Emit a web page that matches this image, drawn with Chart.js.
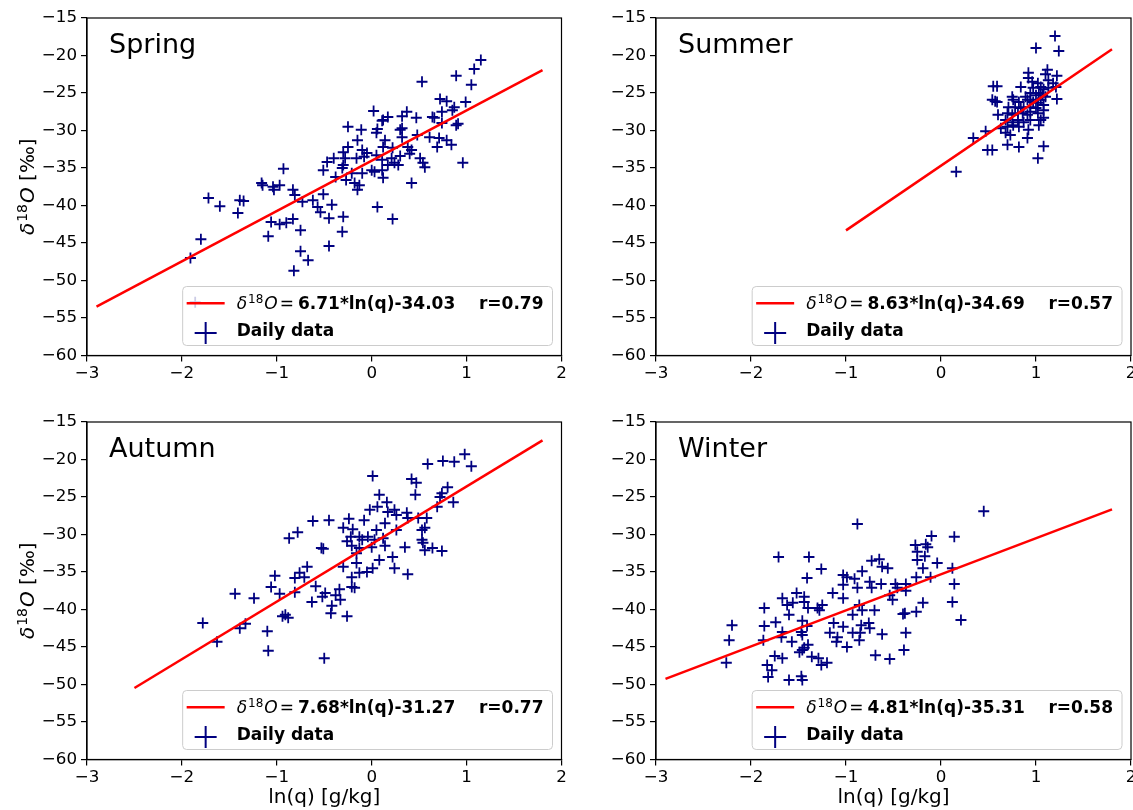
<!DOCTYPE html>
<html>
<head>
<meta charset="utf-8">
<script src="https://cdn.jsdelivr.net/npm/chart.js@4.4.0/dist/chart.umd.min.js"></script>
<style>
  html, body { margin: 0; padding: 0; background: #fff; overflow: hidden; width: 1133px; height: 810px; }
  canvas { position: absolute; left: 0; top: 0; }
</style>
</head>
<body>
<canvas id="panel0" width="1160" height="830"></canvas>
<canvas id="panel1" width="1160" height="830"></canvas>
<canvas id="panel2" width="1160" height="830"></canvas>
<canvas id="panel3" width="1160" height="830"></canvas>
<script>
// ---- data (ln(q) [g/kg], d18O [permil]) ----
const seasons = ['Spring', 'Summer', 'Autumn', 'Winter'];
const slopes = [6.71, 8.63, 7.68, 4.81];
const intercepts = [-34.03, -34.69, -31.27, -35.31];
const rValues = [0.79, 0.57, 0.77, 0.58];
const fitFrom = [-2.9, -1.0, -2.5, -2.9];
const fitTo = [1.8, 1.8, 1.8, 1.8];
const xTickValues = [-3, -2, -1, 0, 1, 2];
const yTickValues = [-60, -55, -50, -45, -40, -35, -30, -25, -20, -15];

const springPoints = [
  [-0.93,-35.1],[-1.16,-37.0],[-1.15,-37.3],[-1.04,-37.5],[-0.97,-37.3],[-1.03,-37.9],[-0.83,-37.9],[-0.81,-38.6],
  [-0.51,-38.5],[-0.73,-39.5],[-0.62,-39.3],[-0.57,-40.2],[-0.54,-40.9],[-0.45,-41.7],[-0.51,-35.3],[-0.47,-34.2],
  [-1.72,-39.0],[-1.60,-40.1],[-1.39,-39.3],[-1.35,-39.4],[-1.41,-41.0],[-1.06,-42.2],[-0.97,-42.5],[-0.90,-42.3],
  [-0.83,-41.8],[-0.75,-43.3],[-1.09,-44.1],[-1.80,-44.5],[-1.91,-47.0],[-0.75,-46.1],[-0.67,-47.3],[-0.82,-48.7],
  [-0.45,-45.4],[-1.86,-52.9],
  [1.15,-20.6],[1.08,-21.8],[0.89,-22.7],[1.05,-23.9],[0.53,-23.5],[0.72,-25.8],[0.79,-26.1],[0.99,-26.2],
  [0.87,-26.9],[0.02,-27.4],[0.37,-27.5],[0.32,-28.1],[0.47,-28.3],[0.17,-28.2],[0.12,-28.6],[0.64,-28.2],
  [0.66,-28.3],[0.74,-27.5],[0.85,-27.3],[0.89,-29.3],[0.91,-29.1],[0.74,-29.0],[-0.25,-29.5],[-0.11,-29.9],
  [0.06,-29.8],[0.11,-28.7],[0.30,-29.9],[0.32,-29.7],[0.05,-30.3],[-0.15,-31.3],[0.32,-30.9],[0.48,-30.6],
  [0.61,-30.9],[0.71,-31.0],[0.79,-31.3],[0.84,-31.9],[0.69,-32.2],[0.14,-31.3],[0.12,-32.2],[0.22,-32.3],
  [0.38,-32.2],[0.42,-32.6],[0.40,-33.1],[-0.25,-32.2],[-0.30,-32.9],[-0.10,-32.6],[-0.05,-33.0],[-0.40,-33.7],
  [-0.28,-33.7],[-0.16,-33.7],[-0.08,-33.5],[0.05,-33.3],[0.11,-33.9],[0.21,-33.7],[0.30,-33.4],[0.24,-34.3],
  [0.28,-34.6],[0.51,-33.7],[0.54,-34.3],[0.56,-34.9],[0.96,-34.3],[-0.30,-34.6],[-0.31,-35.0],[-0.21,-35.7],
  [-0.10,-35.7],[0.00,-35.3],[0.03,-35.5],[0.11,-35.3],[0.12,-36.3],[-0.38,-36.2],[-0.27,-36.6],[-0.18,-37.0],
  [-0.13,-37.3],[-0.15,-37.9],[0.42,-37.0],[0.17,-34.6],[0.06,-40.2],[0.22,-41.8],[-0.42,-39.9],[-0.30,-41.5],
  [-0.31,-43.5]
];

const summerPoints = [
  [1.20,-17.4],[1.00,-19.0],[1.24,-19.4],[0.92,-22.3],[1.12,-21.9],[1.10,-22.5],[1.22,-22.7],[0.92,-23.0],
  [0.96,-23.5],[1.02,-23.7],[1.13,-23.3],[1.18,-23.7],[0.55,-24.1],[0.59,-24.1],[0.84,-24.2],[0.97,-24.3],
  [1.05,-24.2],[1.08,-24.5],[1.13,-24.3],[1.21,-24.2],[0.94,-25.0],[1.00,-25.3],[1.03,-25.0],[1.07,-25.3],
  [1.10,-25.5],[1.22,-25.8],[0.54,-25.9],[0.57,-26.1],[0.59,-26.2],[0.75,-25.5],[0.76,-25.9],[0.82,-26.2],
  [0.89,-25.5],[0.91,-25.9],[0.94,-25.9],[0.97,-26.2],[1.02,-26.3],[1.05,-25.9],[1.08,-26.6],[0.71,-26.9],
  [0.78,-26.9],[0.84,-27.0],[0.87,-26.9],[0.94,-26.9],[1.00,-27.0],[1.08,-27.3],[0.60,-27.9],[0.70,-27.7],
  [0.75,-27.9],[0.81,-27.7],[0.86,-27.7],[0.91,-27.9],[0.94,-27.5],[1.02,-27.7],[0.68,-28.6],[0.75,-28.9],
  [0.81,-28.6],[0.87,-28.9],[0.94,-28.6],[1.05,-28.6],[1.08,-28.3],[0.63,-29.7],[0.70,-29.5],[0.76,-29.3],
  [0.82,-29.5],[0.92,-29.9],[1.03,-29.3],[0.47,-30.1],[0.68,-30.3],[0.73,-30.6],[0.91,-31.0],[0.34,-31.0],
  [0.70,-31.9],[0.82,-32.2],[0.49,-32.6],[0.54,-32.6],[1.08,-32.1],[1.02,-33.7],[0.16,-35.5]
];

const autumnPoints = [
  [-0.62,-28.2],[-0.45,-28.1],[-0.24,-27.9],[-0.30,-29.1],[-0.20,-29.3],[-0.22,-30.3],[-0.26,-30.9],[-0.21,-31.5],
  [-0.78,-29.7],[-0.87,-30.5],[-0.53,-31.8],[-0.51,-31.9],[-0.16,-32.5],[-0.30,-34.3],[-0.16,-33.8],[-0.68,-34.3],
  [-0.76,-35.1],[-0.81,-35.8],[-0.71,-35.7],[-1.02,-35.5],[-1.06,-37.0],[-0.97,-37.9],[-0.81,-37.7],[-0.59,-36.9],
  [-0.21,-35.7],[-0.21,-37.0],[-0.18,-37.1],[-0.34,-37.3],[-0.38,-38.1],[-0.49,-37.8],[-0.52,-38.3],[-0.33,-38.7],
  [-0.63,-39.0],[-0.42,-39.5],[-0.43,-40.5],[-0.26,-40.9],[-1.44,-37.9],[-1.24,-38.5],[-0.94,-40.9],[-0.88,-41.1],
  [-0.91,-40.7],[-1.78,-41.8],[-1.39,-42.5],[-1.33,-41.9],[-1.63,-44.3],[-1.10,-42.9],[-1.09,-45.5],[-0.50,-46.5],
  [0.98,-19.3],[0.59,-20.6],[0.75,-20.2],[0.87,-20.3],[1.05,-20.9],[0.01,-22.2],[0.42,-22.6],[0.47,-23.1],
  [0.46,-24.7],[0.08,-24.7],[0.80,-23.7],[0.74,-24.5],[0.72,-25.0],[0.86,-25.7],[0.69,-26.3],[-0.02,-26.7],
  [0.06,-26.3],[0.16,-25.7],[0.17,-27.0],[0.24,-26.7],[0.26,-27.4],[0.37,-27.1],[0.38,-27.8],[0.49,-27.8],
  [0.58,-27.8],[-0.08,-28.1],[0.05,-29.4],[0.14,-28.5],[0.26,-29.4],[0.53,-29.4],[0.56,-29.1],[-0.13,-30.3],
  [-0.10,-30.7],[-0.04,-30.3],[0.03,-30.7],[0.12,-30.5],[-0.13,-31.8],[0.00,-31.7],[0.14,-31.5],[0.35,-31.7],
  [0.53,-30.7],[0.54,-31.1],[0.56,-32.1],[0.64,-31.8],[0.74,-32.2],[0.08,-33.4],[0.22,-33.0],[0.24,-34.5],
  [-0.13,-35.1],[-0.05,-35.0],[0.01,-34.5],[0.38,-35.3]
];

const winterPoints = [
  [-0.88,-28.6],[-1.71,-33.0],[-1.39,-33.0],[-1.26,-34.6],[-1.41,-35.8],[-1.03,-35.4],[-0.99,-35.7],[-0.91,-35.9],
  [-1.03,-36.7],[-1.14,-37.8],[-1.03,-38.5],[-1.67,-38.5],[-1.52,-37.8],[-1.44,-38.3],[-1.56,-39.1],[-1.62,-39.4],
  [-1.44,-39.0],[-1.86,-39.8],[-1.40,-39.8],[-1.30,-39.8],[-1.28,-40.1],[-1.25,-39.4],[-1.60,-40.7],[-0.93,-40.7],
  [-1.74,-41.7],[-1.86,-42.2],[-1.46,-41.5],[-1.41,-42.2],[-1.13,-41.8],[-1.03,-42.3],[-2.20,-42.1],[-2.23,-44.1],
  [-1.87,-44.1],[-1.68,-43.7],[-1.57,-44.3],[-1.47,-43.0],[-1.46,-43.4],[-1.17,-43.1],[-1.09,-43.7],[-1.10,-44.3],
  [-0.99,-45.0],[-0.93,-43.1],[-1.40,-44.7],[-1.49,-45.7],[-1.46,-45.4],[-1.75,-46.2],[-1.67,-46.5],[-1.36,-46.3],
  [-1.29,-46.5],[-1.26,-47.4],[-1.20,-47.1],[-2.26,-47.1],[-1.83,-47.4],[-1.78,-48.1],[-1.82,-49.0],[-1.60,-49.4],
  [-1.47,-48.9],[-1.46,-49.4],[-1.67,-43.0],[-1.44,-45.1],[-0.88,-37.1],
  [0.45,-26.9],[-0.10,-30.2],[0.14,-30.3],[-0.27,-31.4],[-0.16,-31.3],[-0.14,-31.7],[-0.25,-32.3],[-0.17,-32.9],
  [-0.25,-33.4],[-0.04,-33.8],[-0.73,-33.5],[-0.65,-33.3],[-0.62,-34.3],[-0.56,-34.5],[-0.83,-34.9],[-0.19,-34.5],
  [0.12,-34.5],[-0.26,-35.7],[-0.11,-35.7],[-0.75,-36.3],[-0.63,-36.6],[-0.48,-36.6],[-0.37,-36.6],[-0.73,-37.1],
  [-0.46,-37.1],[-0.37,-37.5],[0.14,-36.6],[-0.54,-38.1],[-0.51,-38.7],[0.12,-39.0],[-0.19,-39.1],[-0.86,-39.4],
  [-0.83,-40.1],[-0.70,-40.1],[-0.40,-40.6],[-0.38,-40.5],[-0.26,-40.3],[-0.84,-42.1],[-0.76,-41.8],[-0.75,-42.5],
  [-0.85,-43.1],[-0.86,-44.1],[-0.62,-43.3],[-0.37,-43.1],[0.21,-41.4],[-0.69,-46.1],[-0.39,-45.4],[-0.54,-46.6]
];

const seasonPoints = [springPoints, summerPoints, autumnPoints, winterPoints];

// ---- layout (pixel plot rectangles on the page) ----
const CANVAS_W = 1160, CANVAS_H = 830;
const Y_AXIS_W = 60, X_AXIS_H = 40;
const plotBoxes = [
  { left: 87, top: 18, right: 561.5, bottom: 355.5 },
  { left: 656, top: 18, right: 1131, bottom: 355.5 },
  { left: 87, top: 422, right: 561.5, bottom: 759.5 },
  { left: 656, top: 422, right: 1131, bottom: 759.5 }
];
const FONT = '"DejaVu Sans", sans-serif';
const NAVY = '#000080';

function fmtTick(v) {
  return v < 0 ? '\u2212' + Math.abs(v) : String(v);
}

function richWidth(ctx, parts) {
  let w = 0;
  parts.forEach(p => {
    ctx.font = p.font;
    w += (p.padL || 0) + ctx.measureText(p.text).width + (p.padR || 0);
  });
  return w;
}

function drawRich(ctx, parts, x, y) {
  parts.forEach(p => {
    ctx.font = p.font;
    x += p.padL || 0;
    ctx.fillText(p.text, x, y + (p.dy || 0));
    x += ctx.measureText(p.text).width + (p.padR || 0);
  });
}

const panelPlugin = {
  id: 'panel',
  afterDatasetsDraw(chart, args, opts) {
    const ctx = chart.ctx;
    const a = chart.chartArea;
    ctx.save();

    // axes frame
    ctx.strokeStyle = '#000';
    ctx.lineWidth = 1.2;
    ctx.strokeRect(a.left, a.top, a.right - a.left, a.bottom - a.top);

    // season title
    ctx.fillStyle = '#000';
    ctx.textAlign = 'left';
    ctx.textBaseline = 'alphabetic';
    ctx.font = '27px ' + FONT;
    ctx.fillText(opts.title, a.left + 22, a.top + 35);

    // legend
    const fs = 17;
    const eq = opts.slope.toFixed(2) + '*ln(q)' + opts.intercept.toFixed(2) + '    r=' + opts.r.toFixed(2);
    const row1 = [
      { text: '\u03b4', font: 'italic ' + fs + 'px ' + FONT },
      { text: '18', font: '12px ' + FONT, dy: -6, padL: 1 },
      { text: 'O', font: 'italic ' + fs + 'px ' + FONT, padL: 1 },
      { text: '=', font: fs + 'px ' + FONT, padL: 2, padR: 4 },
      { text: eq, font: 'bold ' + fs + 'px ' + FONT }
    ];
    const w1 = richWidth(ctx, row1);
    ctx.font = 'bold ' + fs + 'px ' + FONT;
    const w2 = ctx.measureText('Daily data').width;
    const bw = 54 + Math.max(w1, w2) + 9;
    const bh = 59;
    const bx = a.right - 9 - bw;
    const by = a.bottom - 10 - bh;

    ctx.beginPath();
    if (ctx.roundRect) ctx.roundRect(bx, by, bw, bh, 4); else ctx.rect(bx, by, bw, bh);
    ctx.fillStyle = 'rgba(255,255,255,0.8)';
    ctx.fill();
    ctx.strokeStyle = '#cccccc';
    ctx.lineWidth = 1;
    ctx.stroke();

    ctx.strokeStyle = '#ff0000';
    ctx.lineWidth = 2.5;
    ctx.beginPath();
    ctx.moveTo(bx + 4, by + 16.7);
    ctx.lineTo(bx + 42, by + 16.7);
    ctx.stroke();

    ctx.strokeStyle = NAVY;
    ctx.lineWidth = 2;
    ctx.beginPath();
    ctx.moveTo(bx + 12, by + 46.5);
    ctx.lineTo(bx + 34, by + 46.5);
    ctx.moveTo(bx + 23, by + 35.5);
    ctx.lineTo(bx + 23, by + 57.5);
    ctx.stroke();

    ctx.fillStyle = '#000';
    drawRich(ctx, row1, bx + 54, by + 22);
    ctx.font = 'bold ' + fs + 'px ' + FONT;
    ctx.fillText('Daily data', bx + 54, by + 49);

    // axis titles
    if (opts.yLabel) {
      const parts = [
        { text: '\u03b4', font: 'italic 20px ' + FONT },
        { text: '18', font: '14px ' + FONT, dy: -7, padL: 1 },
        { text: 'O', font: 'italic 20px ' + FONT, padL: 1 },
        { text: ' [\u2030]', font: '20px ' + FONT }
      ];
      const w = richWidth(ctx, parts);
      ctx.save();
      ctx.translate(34, (a.top + a.bottom) / 2);
      ctx.rotate(-Math.PI / 2);
      drawRich(ctx, parts, -w / 2, 0);
      ctx.restore();
    }
    if (opts.xLabel) {
      ctx.font = '20px ' + FONT;
      ctx.textAlign = 'center';
      ctx.fillText('ln(q) [g/kg]', (a.left + a.right) / 2, 803);
    }
    ctx.restore();
  }
};

function axisCommon() {
  return {
    type: 'linear',
    grid: { drawOnChartArea: false, drawTicks: true, tickLength: 6, color: '#000', lineWidth: 1.2 },
    border: { display: true, color: '#000', width: 1.2 },
    ticks: {
      color: '#000',
      font: { family: 'DejaVu Sans', size: 16.7 },
      autoSkip: false,
      maxRotation: 0,
      callback: v => fmtTick(v)
    }
  };
}

function makePanel(i) {
  const box = plotBoxes[i];
  const fitLine = [fitFrom[i], fitTo[i]].map(x => ({ x: x, y: slopes[i] * x + intercepts[i] }));
  const pts = seasonPoints[i].map(p => ({ x: p[0], y: p[1] }));

  const xAxis = axisCommon();
  xAxis.min = xTickValues[0];
  xAxis.max = xTickValues[xTickValues.length - 1];
  xAxis.afterBuildTicks = s => { s.ticks = xTickValues.map(v => ({ value: v })); };
  xAxis.afterFit = s => { s.height = X_AXIS_H; };
  xAxis.ticks.padding = 2;

  const yAxis = axisCommon();
  yAxis.min = yTickValues[0];
  yAxis.max = yTickValues[yTickValues.length - 1];
  yAxis.afterBuildTicks = s => { s.ticks = yTickValues.map(v => ({ value: v })); };
  yAxis.afterFit = s => { s.width = Y_AXIS_W; };
  yAxis.ticks.padding = 4;

  new Chart(document.getElementById('panel' + i), {
    type: 'scatter',
    data: {
      datasets: [
        {
          label: 'fit',
          data: fitLine,
          showLine: true,
          borderColor: '#ff0000',
          borderWidth: 2.5,
          pointRadius: 0,
          fill: false,
          order: 0
        },
        {
          label: 'Daily data',
          data: pts,
          pointStyle: 'cross',
          pointRadius: 5.5,
          borderColor: NAVY,
          backgroundColor: NAVY,
          borderWidth: 1.8,
          order: 1
        }
      ]
    },
    options: {
      responsive: false,
      animation: false,
      events: [],
      layout: {
        padding: {
          left: box.left - Y_AXIS_W,
          top: box.top,
          right: CANVAS_W - box.right,
          bottom: CANVAS_H - box.bottom - X_AXIS_H
        }
      },
      plugins: {
        legend: { display: false },
        tooltip: { enabled: false },
        panel: {
          title: seasons[i],
          slope: slopes[i],
          intercept: intercepts[i],
          r: rValues[i],
          yLabel: i % 2 === 0,
          xLabel: i >= 2
        }
      },
      scales: { x: xAxis, y: yAxis }
    },
    plugins: [panelPlugin]
  });
}

seasons.forEach((s, i) => makePanel(i));
</script>
</body>
</html>
